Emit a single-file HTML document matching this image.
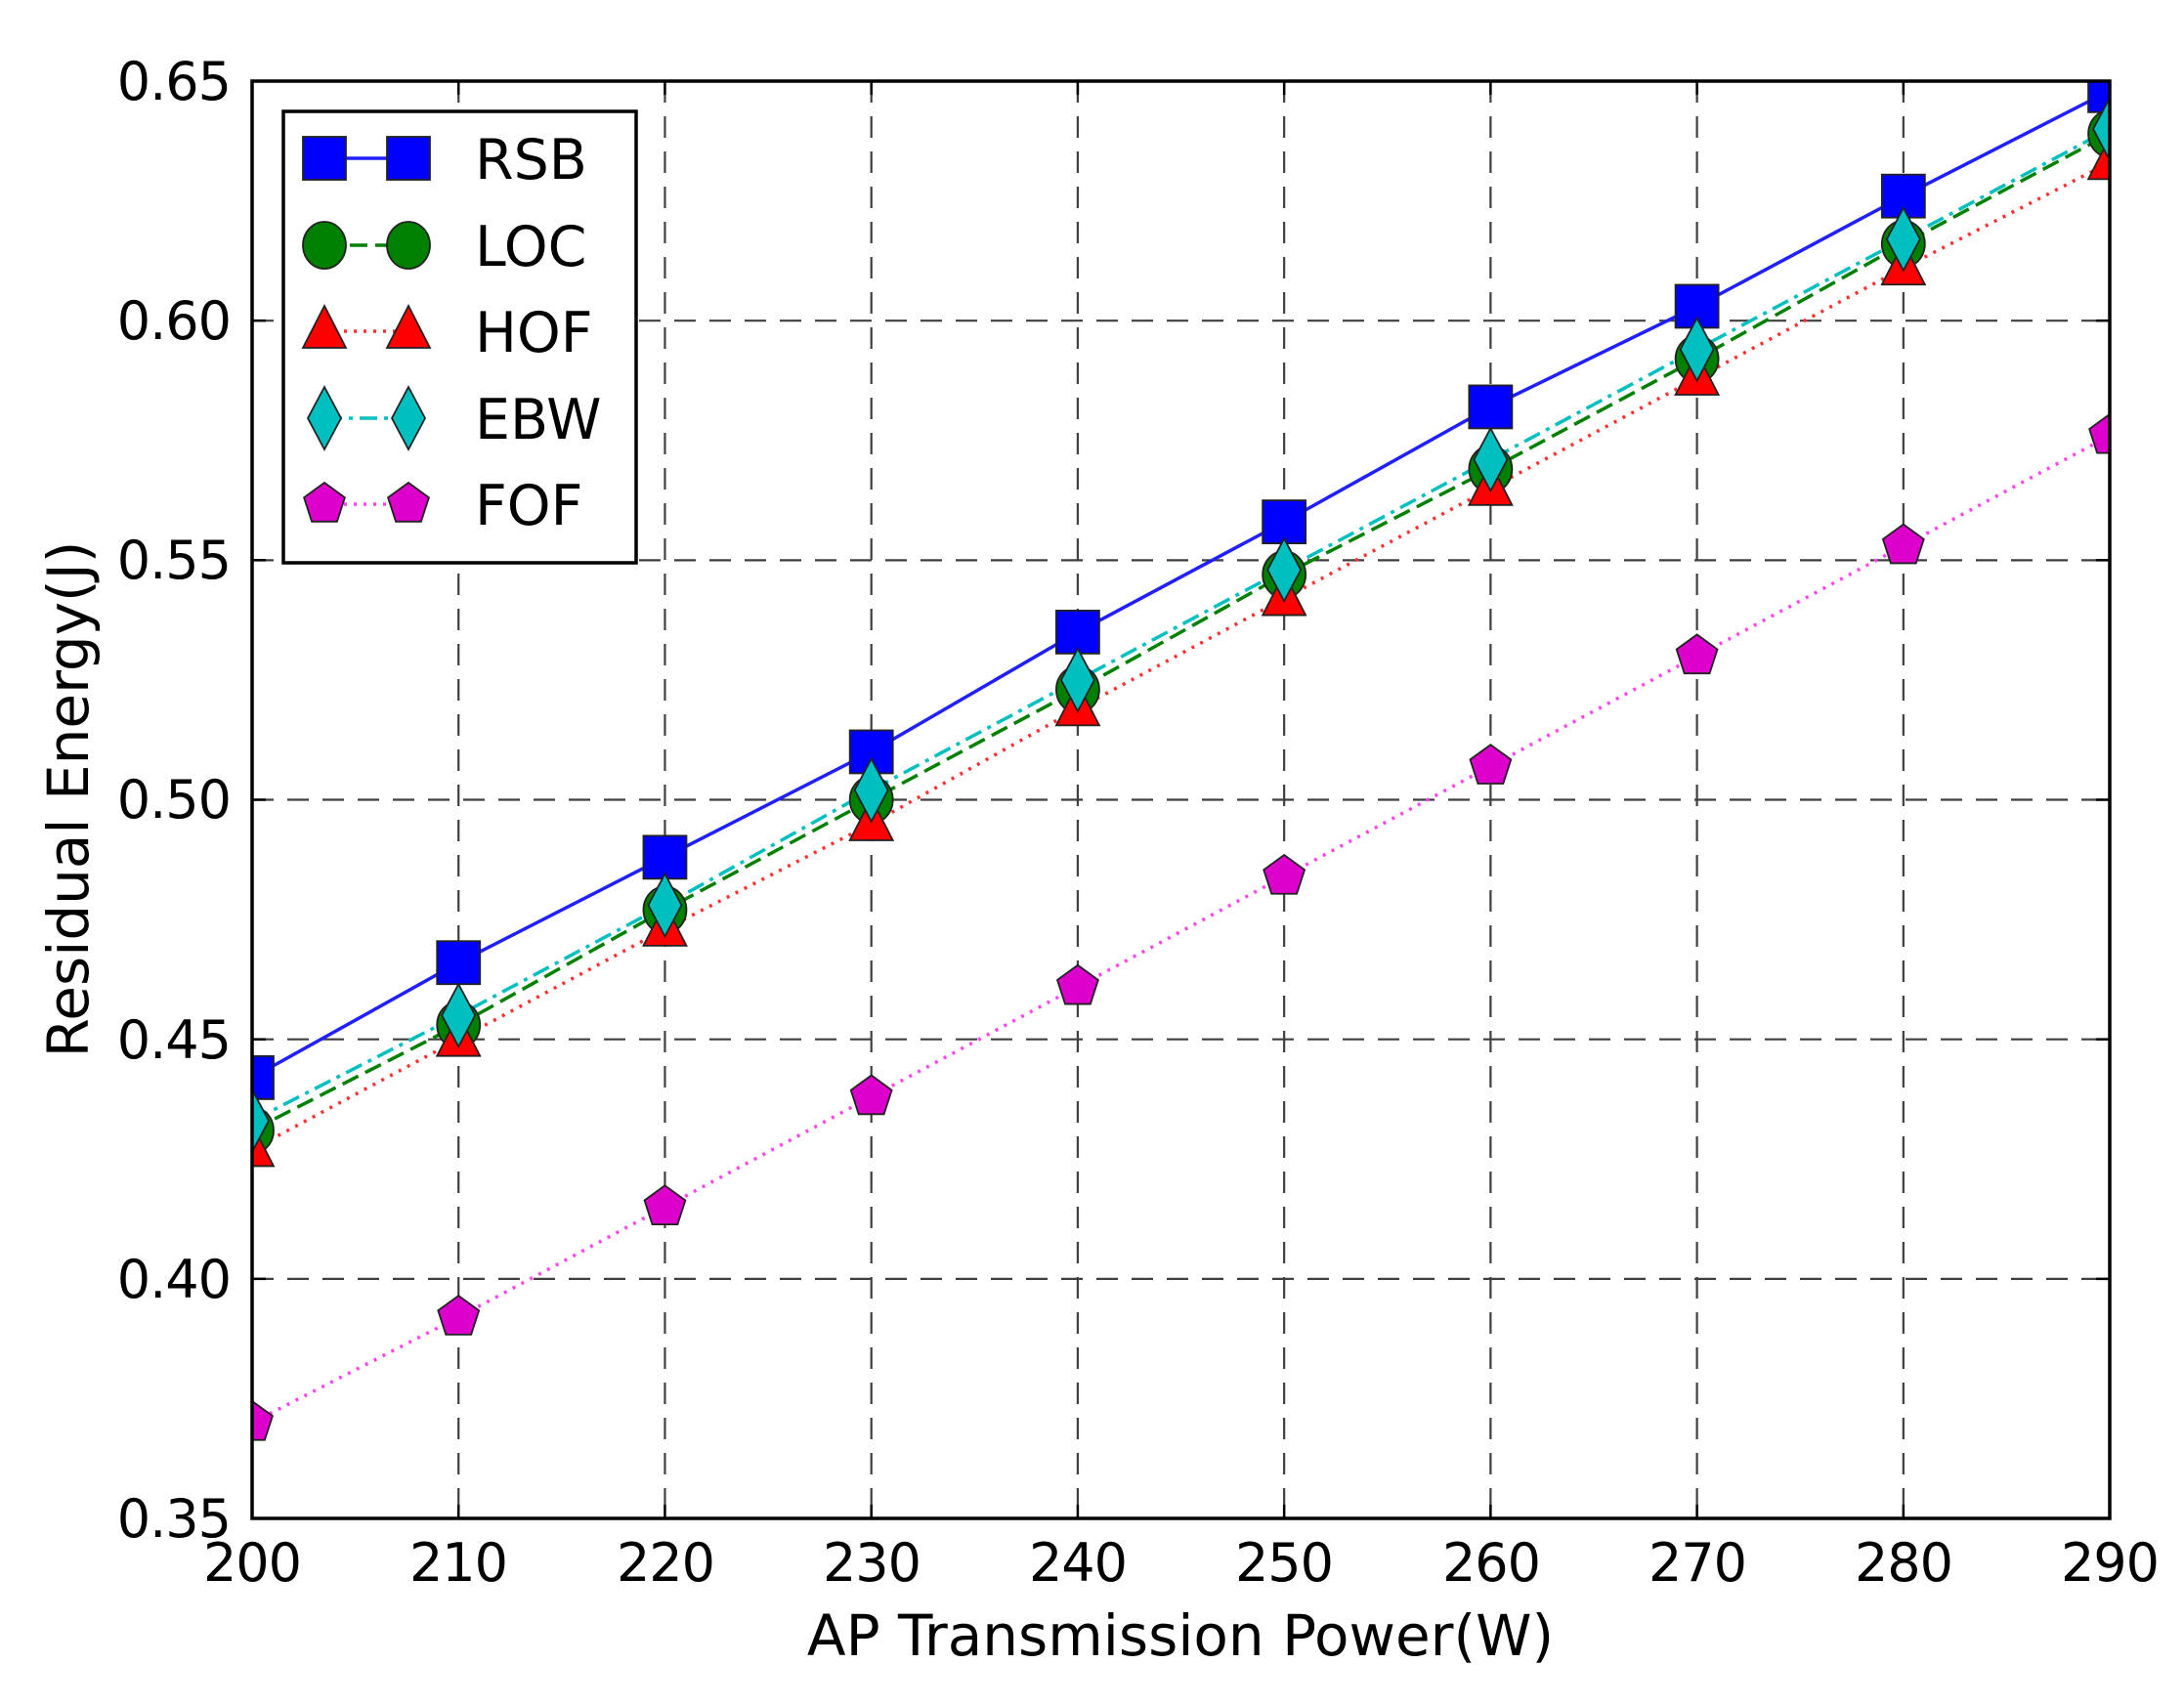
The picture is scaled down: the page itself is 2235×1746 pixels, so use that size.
<!DOCTYPE html>
<html><head><meta charset="utf-8"><style>
html,body{margin:0;padding:0;background:#fff;}
svg{display:block;font-family:"DejaVu Sans","Liberation Sans",sans-serif;}
</style></head><body>
<svg id="s" width="2235" height="1746" viewBox="0 0 2235 1746" xmlns="http://www.w3.org/2000/svg">
<defs><clipPath id="c"><rect x="258" y="83" width="1901" height="1471"/></clipPath></defs>
<g id="grid" stroke="#000" stroke-width="2.2" stroke-dasharray="22,14" opacity="0.75"></g>
<g id="series" clip-path="url(#c)"></g>
<rect x="258" y="83" width="1901" height="1471" fill="none" stroke="#000" stroke-width="3.5"/>
<g id="ticks" stroke="#000" stroke-width="2.5"></g>
<g font-size="54" fill="#000" text-anchor="end" letter-spacing="-1">
<text x="236" y="102">0.65</text><text x="236" y="347">0.60</text><text x="236" y="592">0.55</text>
<text x="236" y="837">0.50</text><text x="236" y="1083">0.45</text><text x="236" y="1328">0.40</text>
<text x="236" y="1573">0.35</text>
</g>
<g font-size="54" fill="#000" text-anchor="middle" letter-spacing="-1">
<text x="258" y="1618">200</text><text x="469" y="1618">210</text><text x="681" y="1618">220</text>
<text x="892" y="1618">230</text><text x="1103" y="1618">240</text><text x="1314" y="1618">250</text>
<text x="1526" y="1618">260</text><text x="1737" y="1618">270</text><text x="1948" y="1618">280</text>
<text x="2159" y="1618">290</text>
</g>
<text x="1208" y="1694" font-size="58" text-anchor="middle">AP Transmission Power(W)</text>
<text transform="translate(90,818) rotate(-90)" font-size="58" text-anchor="middle">Residual Energy(J)</text>
<rect x="290" y="114" width="361" height="462" fill="#fff" stroke="#000" stroke-width="3.5"/>
<g id="leg"></g>
<g font-size="57" fill="#000">
<text x="486" y="183">RSB</text><text x="486" y="272">LOC</text><text x="486" y="360">HOF</text>
<text x="486" y="449">EBW</text><text x="486" y="537">FOF</text>
</g>
</svg>
<script>
var NS="http://www.w3.org/2000/svg";
function X(p){return 258+(p-200)*21.123;}
function Y(v){return 83+(0.65-v)/0.05*245.17;}
function el(t,a,par){var e=document.createElementNS(NS,t);for(var k in a)e.setAttribute(k,a[k]);document.getElementById(par).appendChild(e);return e;}
for(var i=1;i<9;i++){var x=X(200+i*10);el('line',{x1:x,y1:83,x2:x,y2:1554},'grid');el('line',{x1:x,y1:1554,x2:x,y2:1540},'ticks');el('line',{x1:x,y1:83,x2:x,y2:97},'ticks');}
for(var j=1;j<6;j++){var y=Y(0.35+j*0.05);el('line',{x1:258,y1:y,x2:2159,y2:y},'grid');el('line',{x1:258,y1:y,x2:272,y2:y},'ticks');el('line',{x1:2159,y1:y,x2:2145,y2:y},'ticks');}
var S=[
{c:'#0000ff',lc:'#2020ff',d:'',m:'sq',v:[0.442,0.466,0.488,0.510,0.535,0.558,0.582,0.603,0.626,0.648]},
{c:'#008000',lc:'#008000',d:'18,8',m:'ci',v:[0.431,0.453,0.477,0.500,0.523,0.547,0.569,0.592,0.616,0.639]},
{c:'#ff0000',lc:'#ff3030',d:'3,7',m:'tr',v:[0.427,0.450,0.473,0.495,0.519,0.542,0.565,0.588,0.611,0.633]},
{c:'#00bfbf',lc:'#00bfbf',d:'18,7,4,7',m:'di',v:[0.433,0.455,0.478,0.502,0.525,0.548,0.571,0.594,0.617,0.640]},
{c:'#dd00cc',lc:'#ff44ee',d:'3,7',m:'pe',v:[0.370,0.392,0.415,0.438,0.461,0.484,0.507,0.530,0.553,0.576]}];
function marker(m,x,y,c,par){
 var a={fill:c,stroke:'#222','stroke-width':1.8};
 if(m=='sq'){a.x=x-22;a.y=y-22;a.width=44;a.height=44;el('rect',a,par);}
 else if(m=='ci'){a.cx=x;a.cy=y;a.rx=22;a.ry=24;el('ellipse',a,par);}
 else if(m=='tr'){a.points=(x)+','+(y-26)+' '+(x-22)+','+(y+17)+' '+(x+22)+','+(y+17);el('polygon',a,par);}
 else if(m=='di'){a.points=x+','+(y-32)+' '+(x+17)+','+y+' '+x+','+(y+32)+' '+(x-17)+','+y;el('polygon',a,par);}
 else {var p=[];for(var k=0;k<5;k++){var t=-Math.PI/2+k*2*Math.PI/5;p.push((x+22*Math.cos(t))+','+(y+22*Math.sin(t)));}a.points=p.join(' ');el('polygon',a,par);}
}
S.forEach(function(s){
 var pts=s.v.map(function(v,i){return X(200+i*10)+','+Y(v);}).join(' ');
 var a={points:pts,fill:'none',stroke:s.lc,'stroke-width':3.5};if(s.d)a['stroke-dasharray']=s.d;el('polyline',a,'series');
});
S.forEach(function(s){s.v.forEach(function(v,i){marker(s.m,X(200+i*10),Y(v),s.c,'series');});});
var ly=[162,251,339,428,516];
S.forEach(function(s,k){var a={x1:332,y1:ly[k],x2:418,y2:ly[k],stroke:s.lc,'stroke-width':3.5};if(s.d)a['stroke-dasharray']=s.d;el('line',a,'leg');marker(s.m,332,ly[k],s.c,'leg');marker(s.m,418,ly[k],s.c,'leg');});
</script>
</body></html>
